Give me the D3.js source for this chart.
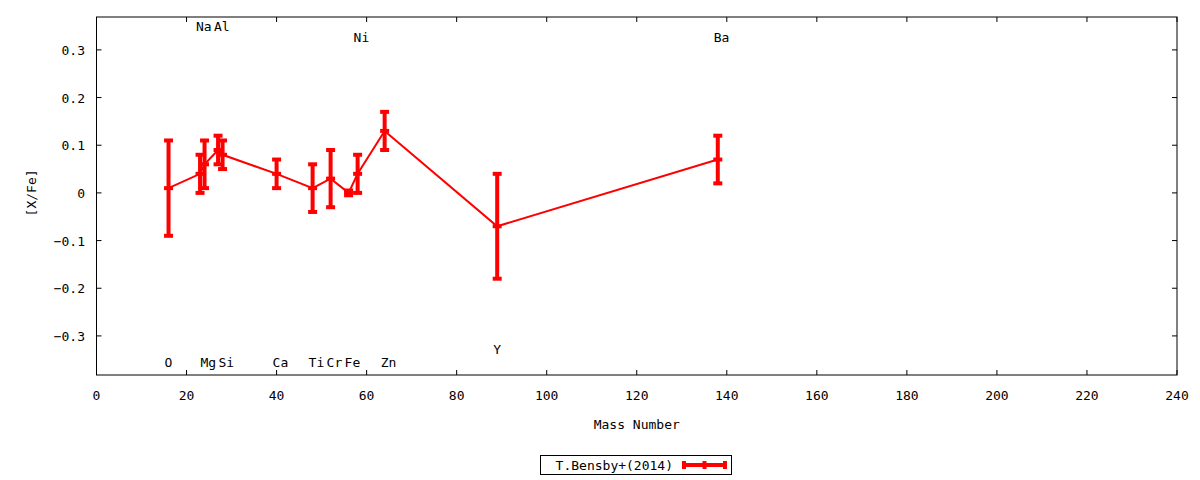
<!DOCTYPE html>
<html>
<head>
<meta charset="utf-8">
<script src="https://cdn.jsdelivr.net/npm/d3@7"></script>
<style>
  body { margin: 0; background: #fff; }
  text { font-family: "DejaVu Sans Mono", monospace; font-size: 13px; fill: #000; }
</style>
</head>
<body>
<script>
const width = 1200;
const height = 480;

// elements, mass numbers, [X/Fe] and errors
const elements = ["O", "Na", "Mg", "Al", "Si", "Ca", "Ti", "Cr", "Fe", "Ni", "Zn", "Y", "Ba"];
const massNumbers = [16, 23, 24, 27, 28, 40, 48, 52, 56, 58, 64, 89, 138];
const xfe = [0.01, 0.04, 0.06, 0.09, 0.08, 0.04, 0.01, 0.03, 0.0, 0.04, 0.13, -0.07, 0.07];
const errs = [0.10, 0.04, 0.05, 0.03, 0.03, 0.03, 0.05, 0.06, 0.005, 0.04, 0.04, 0.11, 0.05];

// label heights (labels alternate top / bottom)
const labelY = [-0.355, 0.35, -0.355, 0.35, -0.355, -0.355, -0.355, -0.355, -0.355, 0.328, -0.355, -0.327, 0.328];

const xTicks = [0, 20, 40, 60, 80, 100, 120, 140, 160, 180, 200, 220, 240];
const yTicks = [-0.3, -0.2, -0.1, 0, 0.1, 0.2, 0.3];

const seriesName = "T.Bensby+(2014)";

const mLeft = 96.5, mRight = 1177, mTop = 17, mBottom = 375;

const svg = d3.select("body").append("svg")
  .attr("width", width)
  .attr("height", height);

const x = d3.scaleLinear().domain([0, 240]).range([mLeft, mRight]);
const y = d3.scaleLinear().domain([-0.382, 0.369]).range([mBottom, mTop]);

const data = elements.map((e, i) => ({
  el: e, m: massNumbers[i], v: xfe[i], err: errs[i], ly: labelY[i]
}));

// ticks, mirrored on all sides, pointing inward
const tickLen = 5;
const axes = svg.append("g").attr("stroke", "#000").attr("stroke-width", 1);
xTicks.forEach(t => {
  axes.append("line").attr("x1", x(t)).attr("x2", x(t)).attr("y1", mBottom).attr("y2", mBottom - tickLen);
  axes.append("line").attr("x1", x(t)).attr("x2", x(t)).attr("y1", mTop).attr("y2", mTop + tickLen);
});
yTicks.forEach(t => {
  axes.append("line").attr("x1", mLeft).attr("x2", mLeft + tickLen).attr("y1", y(t)).attr("y2", y(t));
  axes.append("line").attr("x1", mRight).attr("x2", mRight - tickLen).attr("y1", y(t)).attr("y2", y(t));
});

svg.selectAll(".xtl").data(xTicks).enter().append("text")
  .attr("x", d => x(d))
  .attr("y", 400)
  .attr("text-anchor", "middle")
  .text(d => d);

svg.selectAll(".ytl").data(yTicks).enter().append("text")
  .attr("x", 85)
  .attr("y", d => y(d) + 5)
  .attr("text-anchor", "end")
  .text(d => d === 0 ? "0" : d3.format(".1f")(d));

svg.append("text")
  .attr("x", (mLeft + mRight) / 2)
  .attr("y", 429)
  .attr("text-anchor", "middle")
  .text("Mass Number");

svg.append("text")
  .attr("transform", `translate(36,${y(0)}) rotate(-90)`)
  .attr("text-anchor", "middle")
  .text("[X/Fe]");

// element labels, left-justified at the mass number
svg.selectAll(".lab").data(data).enter().append("text")
  .attr("x", d => x(d.m) - 4)
  .attr("y", d => y(d.ly) + 5)
  .attr("text-anchor", "start")
  .text(d => d.el);

// connecting line
const line = d3.line().x(d => x(d.m)).y(d => y(d.v));
svg.append("path")
  .datum(data)
  .attr("d", line)
  .attr("fill", "none")
  .attr("stroke", "#ff0000")
  .attr("stroke-width", 2);

// error bars
const eb = svg.append("g").attr("stroke", "#ff0000").attr("stroke-width", 4);
data.forEach(d => {
  const cx = x(d.m);
  eb.append("line").attr("x1", cx).attr("x2", cx).attr("y1", y(d.v - d.err)).attr("y2", y(d.v + d.err));
  [d.v - d.err, d.v + d.err, d.v].forEach(v => {
    eb.append("line").attr("x1", cx - 4.5).attr("x2", cx + 4.5).attr("y1", y(v)).attr("y2", y(v));
  });
});

// frame
svg.append("rect")
  .attr("x", mLeft).attr("y", mTop)
  .attr("width", mRight - mLeft).attr("height", mBottom - mTop)
  .attr("fill", "none").attr("stroke", "#000").attr("stroke-width", 1);

// legend
const lg = svg.append("g");
lg.append("rect")
  .attr("x", 540.5).attr("y", 455.5).attr("width", 191).attr("height", 19)
  .attr("fill", "none").attr("stroke", "#000");
lg.append("text")
  .attr("x", 673).attr("y", 470)
  .attr("text-anchor", "end")
  .text(seriesName);
const lx1 = 684, lx2 = 725, lyy = 465;
lg.append("line").attr("x1", lx1).attr("x2", lx2).attr("y1", lyy).attr("y2", lyy)
  .attr("stroke", "#ff0000").attr("stroke-width", 4);
[lx1, (lx1 + lx2) / 2, lx2].forEach(px => {
  lg.append("line").attr("x1", px).attr("x2", px).attr("y1", lyy - 4).attr("y2", lyy + 4)
    .attr("stroke", "#ff0000").attr("stroke-width", 4);
});
</script>
</body>
</html>
